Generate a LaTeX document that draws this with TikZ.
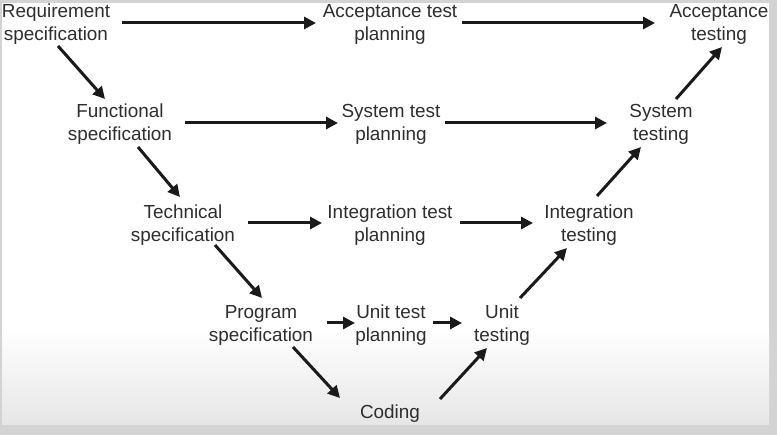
\documentclass[tikz,border=0pt]{standalone}
\usepackage{fontspec}
\setmainfont{Liberation Sans}
\usetikzlibrary{arrows.meta}
\definecolor{txtc}{HTML}{2E2E2E}
\definecolor{arrc}{HTML}{1A1A1A}
\definecolor{framec}{HTML}{D3D3D3}
\definecolor{shadec}{HTML}{E6E6E6}
\begin{document}
\begin{tikzpicture}[x=1pt,y=-1pt,
  lbl/.style={align=center, text=txtc, font=\fontsize{18.9}{23}\selectfont, inner sep=0pt},
  arrow/.style={draw=arrc, line width=3pt, -{Triangle[length=12pt,width=12pt]}}]
% background
\fill[framec] (0,0) rectangle (777,435);
\fill[white] (2,3) rectangle (769,330);
\shade[top color=white, bottom color=shadec] (2,329.5) rectangle (769,425);
\useasboundingbox (0,0) rectangle (777,435);
% nodes
\node[lbl] (req) at (56,24) {Requirement\\specification};
\node[lbl] (accp) at (390,24) {Acceptance test\\planning};
\node[lbl] (acct) at (719,24) {Acceptance\\testing};
\node[lbl] (func) at (120,124) {Functional\\specification};
\node[lbl] (sysp) at (391,124) {System test\\planning};
\node[lbl] (syst) at (661,124) {System\\testing};
\node[lbl] (tech) at (183,225) {Technical\\specification};
\node[lbl] (intp) at (390,225) {Integration test\\planning};
\node[lbl] (intt) at (589,225) {Integration\\testing};
\node[lbl] (prog) at (261,325) {Program\\specification};
\node[lbl] (unitp) at (391,325) {Unit test\\planning};
\node[lbl] (unitt) at (502,325) {Unit\\testing};
\node[lbl] (cod) at (390,414) {Coding};
% arrows
\draw[arrow] ([shift={(66,-1)}]req.center) -- ([shift={(-74,-1)}]accp.center);
\draw[arrow] ([shift={(72,-1)}]accp.center) -- ([shift={(-64,-1)}]acct.center);
\draw[arrow] ([shift={(2,22)}]req.center) -- ([shift={(-15,-25)}]func.center);
\draw[arrow] ([shift={(65,-1)}]func.center) -- ([shift={(-53,-1)}]sysp.center);
\draw[arrow] ([shift={(54,-1)}]sysp.center) -- ([shift={(-54,-1)}]syst.center);
\draw[arrow] ([shift={(18,23)}]func.center) -- ([shift={(-3,-28)}]tech.center);
\draw[arrow] ([shift={(65,-2)}]tech.center) -- ([shift={(-68,-2)}]intp.center);
\draw[arrow] ([shift={(70,-2)}]intp.center) -- ([shift={(-56,-2)}]intt.center);
\draw[arrow] ([shift={(32,20)}]tech.center) -- ([shift={(1,-27)}]prog.center);
\draw[arrow] ([shift={(66,-2)}]prog.center) -- ([shift={(-36,-2)}]unitp.center);
\draw[arrow] ([shift={(42,-2)}]unitp.center) -- ([shift={(-40,-2)}]unitt.center);
\draw[arrow] ([shift={(32,22)}]prog.center) -- ([shift={(-50,-16)}]cod.center);
\draw[arrow] ([shift={(50,-15)}]cod.center) -- ([shift={(-15,23)}]unitt.center);
\draw[arrow] ([shift={(18,-27)}]unitt.center) -- ([shift={(-22,23)}]intt.center);
\draw[arrow] ([shift={(8,-29)}]intt.center) -- ([shift={(-20,23)}]syst.center);
\draw[arrow] ([shift={(15,-25)}]syst.center) -- ([shift={(3,23)}]acct.center);
\end{tikzpicture}
\end{document}
